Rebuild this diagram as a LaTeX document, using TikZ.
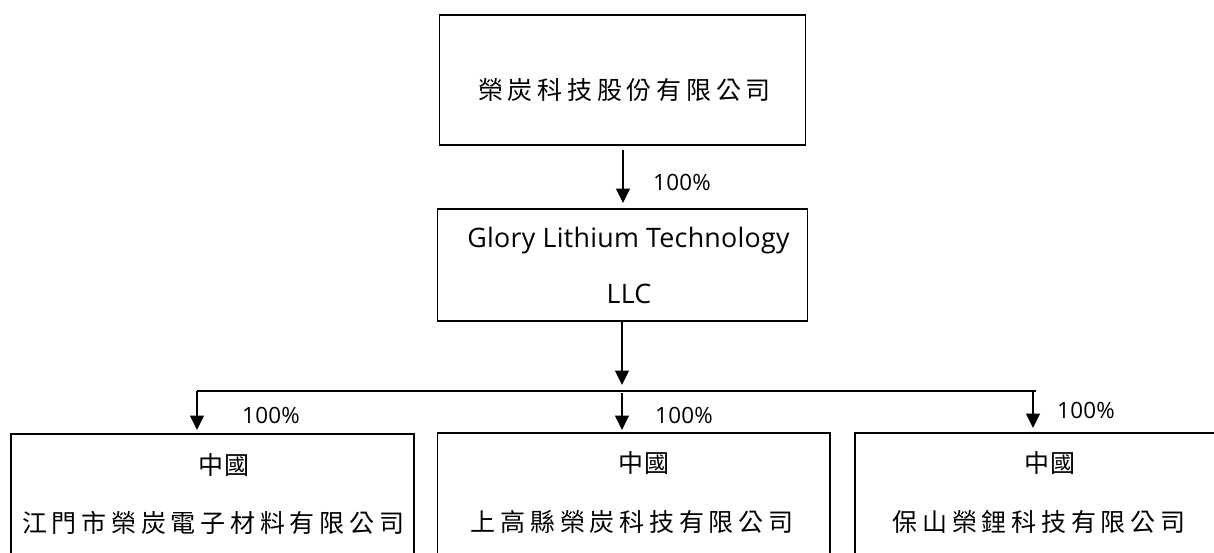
\documentclass[tikz,border=0pt]{standalone}
\usepackage{fontspec}
\setmainfont{Open Sans}[LetterSpace=1]
\newfontfamily\cjk{Noto Sans CJK TC}[LetterSpace=19]
\newfontfamily\cjktight{Noto Sans CJK TC}[LetterSpace=4]
\usetikzlibrary{arrows.meta}
\tikzset{
  x=1pt,y=-1pt,
  boxnode/.style={draw=black,line width=1.5pt,anchor=north west,inner sep=0pt,outer sep=0pt},
  zh/.style={inner sep=0pt,font=\fontsize{25}{25}\selectfont\cjk},
  zhtight/.style={inner sep=0pt,font=\fontsize{25}{25}\selectfont\cjktight},
  en/.style={inner sep=0pt,anchor=base,font=\fontsize{26.8}{28}\selectfont},
  pct/.style={inner sep=0pt,anchor=base,font=\fontsize{22.4}{24}\selectfont},
  conn/.style={line width=1.5pt,-{Triangle[length=14.5pt,width=14pt]}},
  busline/.style={line width=1.6pt},
}
\begin{document}
\begin{tikzpicture}
\useasboundingbox (0,0) rectangle (1214,552);
\clip (0,0) rectangle (1214,552);
\node[boxnode,minimum width=366pt,minimum height=130pt] (top) at (439.5,15) {};
\node[boxnode,minimum width=370pt,minimum height=112pt] (glory) at (437.5,209) {};
\node[boxnode,minimum width=403pt,minimum height=150pt] (left) at (11,434) {};
\node[boxnode,minimum width=392.5pt,minimum height=150pt] (mid) at (437.5,433) {};
\node[boxnode,minimum width=400pt,minimum height=150pt] (right) at (855,433) {};
\node[zh] (toptext) at (624.5,90) {榮炭科技股份有限公司};
\node[en] (glorya) at (628.5,247) {Glory Lithium Technology};
\node[en] (gloryb) at (629,303) {LLC};
\node[zhtight] (lefta) at (223.5,465) {中國};
\node[zh] (leftb) at (213,523) {江門市榮炭電子材料有限公司};
\node[zhtight] (mida) at (643.5,463.5) {中國};
\node[zh] (midb) at (632,522) {上高縣榮炭科技有限公司};
\node[zhtight] (righta) at (1050,463.5) {中國};
\node[zh] (rightb) at (1039,522) {保山榮鋰科技有限公司};
\node[pct] (p0) at (682,190) {100\%};
\node[pct] (p1) at (271,423) {100\%};
\node[pct] (p2) at (684,423) {100\%};
\node[pct] (p3) at (1086,418) {100\%};
\coordinate (a0) at (623,150);
\coordinate (a1) at (623,203);
\coordinate (a2) at (622,385);
\coordinate (busl) at (197,391);
\coordinate (busr) at (1036,391);
\coordinate (l0) at (197,391);
\coordinate (l1) at (197,430);
\coordinate (m0) at (622,393);
\coordinate (m1) at (622,430);
\coordinate (r0) at (1033,391);
\coordinate (r1) at (1033,428);
\draw[conn] (a0) -- (a1);
\draw[conn] (glory.south -| a2) -- (a2);
\draw[busline] (busl) -- (busr);
\draw[conn] (l0) -- (l1);
\draw[conn] (m0) -- (m1);
\draw[conn] (r0) -- (r1);
\end{tikzpicture}
\end{document}
